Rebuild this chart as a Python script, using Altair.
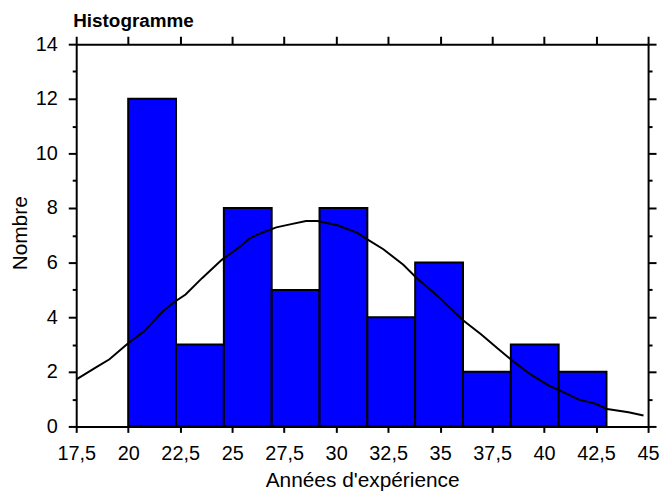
import altair as alt
import pandas as pd

# Histogram bins
bin_start = [20.0, 22.3, 24.6, 26.9, 29.2, 31.5, 33.8, 36.1, 38.4, 40.7]
bin_end = [22.3, 24.6, 26.9, 29.2, 31.5, 33.8, 36.1, 38.4, 40.7, 43.0]
counts = [12, 3, 8, 5, 8, 4, 6, 2, 3, 2]

# Fitted curve, points
curve_x = [17.53, 18.45, 19.1, 19.97, 20.77, 21.64, 22.2, 22.76, 23.55, 24.5,
           25.37, 25.85, 26.25, 27.12, 27.84, 28.55, 29.1, 30.06, 31.0, 31.5,
           32.27, 33.23, 33.88, 34.67, 35.15, 36.1, 36.98, 37.77, 38.49, 39.28,
           40.24, 40.95, 41.67, 42.47, 43.03, 44.06, 44.78]
curve_y = [1.73, 2.16, 2.46, 3.03, 3.49, 4.2, 4.55, 4.83, 5.43, 6.1,
           6.58, 6.89, 7.04, 7.29, 7.41, 7.52, 7.52, 7.37, 7.1, 6.85,
           6.49, 5.92, 5.43, 4.91, 4.58, 3.89, 3.37, 2.85, 2.4, 1.94,
           1.49, 1.25, 0.98, 0.83, 0.64, 0.52, 0.4]

x_ticks = [17.5, 20, 22.5, 25, 27.5, 30, 32.5, 35, 37.5, 40, 42.5, 45]
y_ticks = [0, 1, 2, 3, 4, 5, 6, 7, 8, 9, 10, 11, 12, 13, 14]

bars_df = pd.DataFrame({"start": bin_start, "end": bin_end, "count": counts})
curve_df = pd.DataFrame({"x": curve_x, "y": curve_y})

FONT = "Liberation Sans"
xscale = alt.Scale(domain=[17.5, 45], nice=False, zero=False)
yscale = alt.Scale(domain=[0, 14], nice=False)
ytick_size = {"condition": {"test": "datum.value % 2 == 0", "value": 8}, "value": 4}

bars = alt.Chart(bars_df).mark_rect(color="#0000FF", stroke="black", strokeWidth=2).encode(
    x=alt.X("start:Q", scale=xscale,
            axis=alt.Axis(orient="bottom", values=x_ticks, format=".1~f",
                          labelExpr="replace(datum.label, '.', ',')",
                          labelFlush=False, labelOverlap=False,
                          title="Années d'expérience", tickSize=6, labelPadding=11,
                          titleBaseline="alphabetic", titleY=61, titleFontSize=21,
                          titleFontWeight="normal")),
    x2="end:Q",
    y=alt.Y("count:Q", scale=yscale,
            axis=alt.Axis(orient="left", values=y_ticks,
                          labelExpr="datum.value % 2 == 0 ? datum.label : ''",
                          labelFlush=False, labelOverlap=False,
                          title="Nombre", tickSize=ytick_size, labelPadding=11,
                          titleX=-56, titleY=190, titleBaseline="middle",
                          titleAlign="center", titleAngle=270, titleFontSize=21,
                          titleFontWeight="normal")),
    y2=alt.datum(0),
)

line = alt.Chart(curve_df).mark_line(color="black", strokeWidth=2).encode(
    x=alt.X("x:Q", scale=xscale,
            axis=alt.Axis(orient="top", values=x_ticks, labels=False, title="", tickSize=8)),
    y=alt.Y("y:Q", scale=yscale,
            axis=alt.Axis(orient="right", values=y_ticks, labels=False, title="",
                          tickSize=ytick_size)),
)

chart = alt.layer(bars, line).resolve_axis(x="independent", y="independent").properties(
    width=576,
    height=385,
    autosize=alt.AutoSizeParams(type="none"),
    padding={"left": 68.7, "top": 34.7, "right": 12, "bottom": 66},
    title=alt.TitleParams("Histogramme", anchor="start", frame="group", font=FONT,
                          fontSize=19, fontWeight="bold", offset=9, baseline="alphabetic",
                          dx=-3, dy=21, color="black"),
).configure_view(stroke=None).configure_axis(
    grid=False,
    domainColor="black", domainWidth=2,
    tickColor="black", tickWidth=2,
    labelFont=FONT, labelFontSize=20, labelColor="black",
    titleFont=FONT, titleColor="black",
)

chart.save("out.html", embed_options={"renderer": "svg", "actions": False})
